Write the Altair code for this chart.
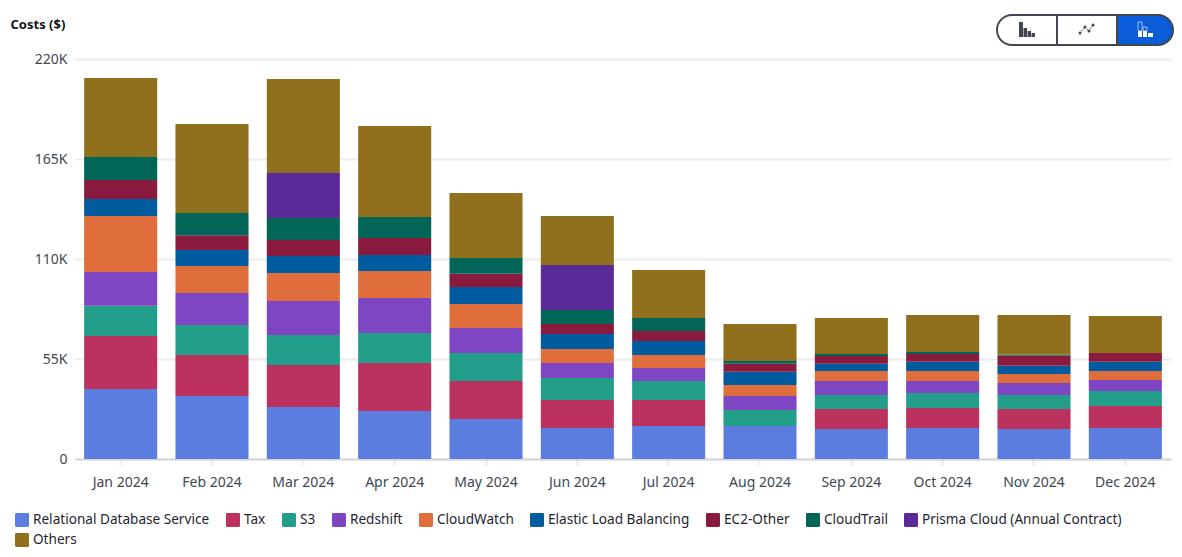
import altair as alt
import pandas as pd

months = ["Jan 2024", "Feb 2024", "Mar 2024", "Apr 2024", "May 2024", "Jun 2024",
          "Jul 2024", "Aug 2024", "Sep 2024", "Oct 2024", "Nov 2024", "Dec 2024"]
services = ["Relational Database Service", "Tax", "S3", "Redshift", "CloudWatch",
            "Elastic Load Balancing", "EC2-Other", "CloudTrail",
            "Prisma Cloud (Annual Contract)", "Others"]
colors = ["#5C7DE0", "#BB325E", "#239E8B", "#7E46C2", "#DF6E3C",
          "#015B9F", "#8A1B3E", "#016657", "#5A2A98", "#90701C"]

rds = [38500, 34650, 28600, 26400, 22000, 17050, 18150, 18150, 16500, 17050, 16500, 17050]
tax = [29150, 22550, 23100, 26400, 20900, 15400, 14300, 0, 11000, 11000, 11000, 12100]
s3 = [16700, 16500, 16500, 16500, 15400, 12100, 10450, 8800, 7700, 8250, 7700, 8250]
redshift = [18500, 17600, 18700, 19250, 13750, 8250, 7150, 7700, 7700, 6600, 6600, 6050]
cloudwatch = [30800, 14850, 15400, 14850, 13200, 7700, 7150, 6050, 5500, 5500, 4950, 4950]
elb = [9350, 8800, 9350, 8800, 9350, 8250, 7700, 7300, 4000, 5100, 4550, 5100]
ec2_other = [10450, 8100, 8800, 9350, 7300, 5500, 5500, 4400, 4250, 4250, 5500, 4800]
cloudtrail = [12650, 12250, 12100, 11550, 8650, 7700, 7150, 1500, 1100, 1100, 550, 0]
prisma = [0, 0, 24750, 0, 0, 24750, 0, 0, 0, 0, 0, 0]
others = [43450, 48950, 51700, 50050, 35750, 26950, 26400, 20350, 19800, 20350, 21850, 20350]
series = [rds, tax, s3, redshift, cloudwatch, elb, ec2_other, cloudtrail, prisma, others]

rows = []
for k, (name, vals) in enumerate(zip(services, series)):
    for m, v in zip(months, vals):
        if v > 0:
            rows.append({"month": m, "service": name, "cost": v, "rank": k})
df = pd.DataFrame(rows)

FONT = "Noto Sans"
TXT = "#414750"
square = "M-0.8,-1H0.8Q1,-1 1,-0.8V0.8Q1,1 0.8,1H-0.8Q-1,1 -1,0.8V-0.8Q-1,-1 -0.8,-1Z"

bars = alt.Chart(df).mark_bar().encode(
    x=alt.X("month:N", sort=months, title=None,
            scale=alt.Scale(paddingInner=0.2, paddingOuter=0.1),
            axis=alt.Axis(labelAngle=0, tickColor="#E6E7EA", tickWidth=2, tickSize=6,
                          domainColor="#D5D6DC", domainWidth=2, labelPadding=10,
                          labelColor=TXT, labelFont=FONT, labelFontSize=14, grid=False)),
    y=alt.Y("cost:Q", stack="zero",
            scale=alt.Scale(domain=[0, 220000], nice=False),
            axis=alt.Axis(values=[0, 55000, 110000, 165000, 220000], title="Costs ($)",
                          titleAngle=0, titleX=-65, titleY=-35, titleAlign="left",
                          titleFont=FONT, titleFontSize=13, titleFontWeight="bold",
                          titleColor="#0F141A", titleBaseline="middle",
                          labelExpr="datum.value == 0 ? '0' : datum.value / 1000 + 'K'",
                          labelColor=TXT, labelFont=FONT, labelFontSize=14, labelPadding=8,
                          domain=False, ticks=False, grid=True,
                          gridColor="#ECECEE", gridWidth=2)),
    color=alt.Color("service:N", scale=alt.Scale(domain=services, range=colors), sort=services,
                    legend=alt.Legend(orient="none", legendX=-60, legendY=454, title=None,
                                      direction="horizontal", columns=9, gridAlign="none",
                                      symbolType=square,
                                      symbolSize=196, symbolStrokeWidth=0, symbolOpacity=1,
                                      labelFont=FONT, labelFontSize=13.6, labelColor="#1F2530",
                                      labelOffset=4, columnPadding=16, rowPadding=6,
                                      labelLimit=400)),
    order=alt.Order("rank:Q", sort="ascending"),
)

# --- view-switch control at the top right (page pixels, shifted to the plot's origin)
OX, OY = 75, 59
one = alt.Data(values=[{}])


def box(x0, x1, y0, y1, **mark):
    return alt.Chart(one).mark_rect(**mark).encode(
        x=alt.value(x0 - OX), x2=alt.value(x1 - OX),
        y=alt.value(y0 - OY), y2=alt.value(y1 - OY))


def seg(x0, y0, x1, y1, color):
    return alt.Chart(one).mark_rule(color=color, strokeWidth=1, strokeDash=[1.5, 1]).encode(
        x=alt.value(x0 - OX), x2=alt.value(x1 - OX),
        y=alt.value(y0 - OY), y2=alt.value(y1 - OY))


def dot(x, y, color):
    return alt.Chart(one).mark_point(filled=True, size=9, color=color, opacity=1).encode(
        x=alt.value(x - OX), y=alt.value(y - OY))


DARK = "#414750"
BLUE = "#0A5CD8"
ui = [
    box(997, 1173, 15, 45, fill="white", cornerRadius=15),
    box(1117, 1173, 15, 45, fill=BLUE, cornerRadiusTopRight=15, cornerRadiusBottomRight=15),
    box(997, 1173, 15, 45, fill="transparent", stroke=DARK, strokeWidth=2, cornerRadius=15),
    box(1056, 1058, 15, 45, fill=DARK),
    box(1116, 1118, 15, 45, fill=DARK),
    box(1019, 1023, 22, 37, fill=DARK),
    box(1023.5, 1027, 28, 37, fill=DARK),
    box(1027.5, 1031, 31, 37, fill=DARK),
    box(1031.5, 1035, 33, 37, fill=DARK),
    seg(1080, 33, 1085, 27, DARK),
    seg(1085, 27, 1089, 31, DARK),
    seg(1089, 31, 1093, 25, DARK),
    dot(1080, 33, DARK),
    dot(1085, 27, DARK),
    dot(1089, 31, DARK),
    dot(1093, 25, DARK),
    box(1138, 1142, 22, 31, fill="transparent", stroke="#9DBDF0", strokeWidth=1),
    box(1143, 1147, 27, 31, fill="transparent", stroke="#9DBDF0", strokeWidth=1),
    box(1138, 1142, 31, 37, fill="white"),
    box(1143, 1147, 31, 37, fill="white"),
    box(1148, 1153, 33, 37, fill="white"),
]

chart = alt.layer(bars, *ui).properties(
    width=1096, height=400,
    autosize=alt.AutoSizeParams(type="none"),
    padding={"left": 67, "top": 51, "right": 3, "bottom": 90},
    background="white",
).configure_view(stroke=None)

chart.save("out.html", embed_options={"renderer": "svg", "actions": False})
